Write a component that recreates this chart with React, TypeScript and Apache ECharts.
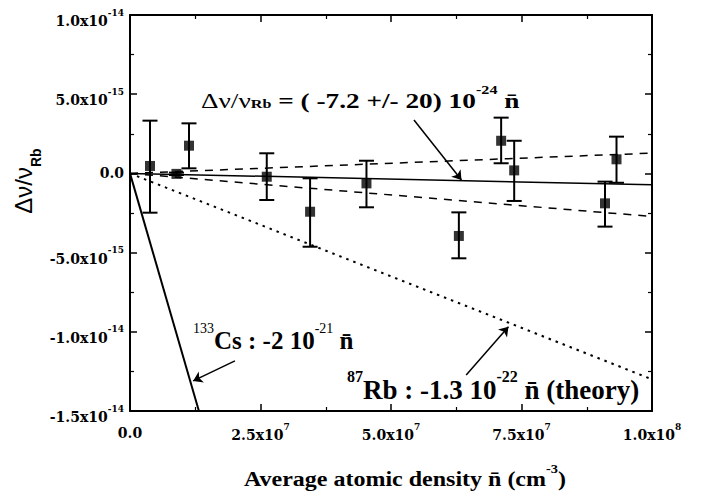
import React, { useEffect, useRef } from "react";
import * as echarts from "echarts";

const SERIF = "Liberation Serif";
const TICKFONT = "DejaVu Serif";
const SANS = "Liberation Sans";

// density in units of 1e7 cm^-3, relative shift in units of 1e-15
const density = [0.383, 0.89, 1.13, 2.62, 3.45, 4.53, 6.3, 7.11, 7.36, 9.1, 9.32];
const shift = [0.47, -0.03, 1.75, -0.21, -2.42, -0.63, -3.95, 2.06, 0.19, -1.89, 0.89];
const errTop = [3.33, 0.05, 3.16, 1.27, -0.31, 0.8, -2.46, 3.52, 2.06, -0.52, 2.32];
const errBottom = [-2.48, -0.1, 0.32, -1.68, -4.63, -2.14, -5.36, 0.64, -1.74, -3.36, -0.59];

const fitLine = [[0, 0], [10, -0.72]];
const fitUpper = [[0, 0], [10, 1.28]];
const fitLower = [[0, 0], [10, -2.72]];
const rbTheory = [[0, 0], [10, -13]];
const csLine = [[0, 0], [1.32, -15]];

const arrowFit = [[5.44, 3.37], [6.35, -0.42]];
const arrowCs = [[2.01, -11.84], [1.21, -13.1]];
const arrowRb = [[6.44, -12.72], [7.25, -9.68]];

const xTickMant = ["0.0", "2.5x10", "5.0x10", "7.5x10", "1.0x10"];
const xTickExp = ["", "7", "7", "7", "8"];
const yTickMant = ["-1.5x10", "-1.0x10", "-5.0x10", "0.0", "5.0x10", "1.0x10"];
const yTickExp = ["-14", "-14", "-15", "", "-15", "-14"];

const tok = (family: string, size: number, pad: number, bold = true) => ({
  fontFamily: family,
  fontWeight: bold ? "bold" : "normal",
  fontSize: size,
  verticalAlign: "top",
  padding: [pad, 0, 0, 0],
  color: "#000",
  fill: "#000",
});

export default function App() {
  const ref = useRef<HTMLDivElement>(null);
  useEffect(() => {
    if (!ref.current) return;
    const chart = echarts.init(ref.current, null, { renderer: "svg" });
    const black = "#000";
    const axisCommon = {
      type: "value",
      axisLine: { onZero: false, lineStyle: { color: black, width: 2 } },
      axisTick: { inside: true, length: 7, lineStyle: { color: black, width: 1.5 } },
      minorTick: { show: true, splitNumber: 2, length: 4, lineStyle: { color: black, width: 1.2 } },
      splitLine: { show: false },
      minorSplitLine: { show: false },
    };
    const xLabel = {
      margin: 11,
      verticalAlign: "top",
      formatter: (v: number) => {
        const i = Math.round(v / 2.5);
        return xTickExp[i] ? `{m|${xTickMant[i]}}{s|${xTickExp[i]}}` : `{z|${xTickMant[i]}}`;
      },
      rich: {
        m: tok(TICKFONT, 14, 6),
        s: tok(TICKFONT, 9, 0),
        z: tok(TICKFONT, 14, 4),
      },
    };
    const yLabel = {
      margin: 6,
      verticalAlign: "middle",
      formatter: (v: number) => {
        const i = Math.round((v + 15) / 5);
        return yTickExp[i] ? `{m|${yTickMant[i]}}{s|${yTickExp[i]}}` : `{z|${yTickMant[i]}}`;
      },
      rich: {
        m: tok(TICKFONT, 14, 12),
        s: tok(TICKFONT, 9, 6),
        z: tok(TICKFONT, 14, 0),
      },
    };
    const errData = density.map((x, i) => [x, errBottom[i], errTop[i]]);
    const pts = density.map((x, i) => [x, shift[i]]);
    const lineSeries = (data: number[][], type: any, width: number) => ({
      type: "line",
      data,
      symbol: "none",
      lineStyle: { color: black, width, type },
      z: 2,
    });
    chart.setOption({
      animation: false,
      grid: { left: 130, right: 52, top: 15, bottom: 88 },
      xAxis: [
        { ...axisCommon, position: "bottom", min: 0, max: 10, interval: 2.5, axisLabel: xLabel },
        { ...axisCommon, position: "top", min: 0, max: 10, interval: 2.5, axisLabel: { show: false } },
      ],
      yAxis: [
        { ...axisCommon, position: "left", min: -15, max: 10, interval: 5, axisLabel: yLabel },
        { ...axisCommon, position: "right", min: -15, max: 10, interval: 5, axisLabel: { show: false } },
      ],
      series: [
        lineSeries(fitLine, "solid", 1.5),
        lineSeries(fitUpper, [8, 7], 1.5),
        lineSeries(fitLower, [8, 7], 1.5),
        lineSeries(rbTheory, [2.5, 5], 2),
        lineSeries(csLine, "solid", 2),
        {
          type: "lines",
          coordinateSystem: "cartesian2d",
          symbol: ["none", "arrow"],
          symbolSize: 9,
          lineStyle: { color: black, width: 1.5, opacity: 1 },
          data: [{ coords: arrowFit }, { coords: arrowCs }, { coords: arrowRb }],
          z: 3,
        },
        {
          type: "custom",
          data: errData,
          encode: { x: 0, y: [1, 2] },
          z: 4,
          renderItem: (params: any, api: any) => {
            const x = api.value(0);
            const lo = api.coord([x, api.value(1)]);
            const hi = api.coord([x, api.value(2)]);
            const w = 7.5;
            const st = { stroke: black, lineWidth: 2 };
            return {
              type: "group",
              children: [
                { type: "line", shape: { x1: lo[0], y1: lo[1], x2: hi[0], y2: hi[1] }, style: st },
                { type: "line", shape: { x1: lo[0] - w, y1: lo[1], x2: lo[0] + w, y2: lo[1] }, style: st },
                { type: "line", shape: { x1: hi[0] - w, y1: hi[1], x2: hi[0] + w, y2: hi[1] }, style: st },
              ],
            };
          },
        },
        {
          type: "scatter",
          data: pts,
          symbol: "rect",
          symbolSize: 10,
          itemStyle: { color: black },
          z: 5,
        },
      ],
      graphic: [
        {
          type: "text",
          x: 201,
          y: 80,
          scaleX: 1.24,
          style: {
            text: "{g|Δν/ν}{sub|Rb}{m| = ( -7.2 +/- 20) 10}{sup|-24}{m| n̄}",
            align: "left",
            verticalAlign: "top",
            rich: {
              g: tok(SERIF, 22, 9, false),
              m: tok(SERIF, 22, 9),
              sub: tok(SERIF, 13, 17),
              sup: tok(SERIF, 13, 3),
            },
          },
        },
        {
          type: "text",
          x: 193,
          y: 310,
          style: {
            text: "{sup|133}{m|Cs : -2 10}{sup|-21}{m| n̄}",
            align: "left",
            verticalAlign: "top",
            rich: {
              m: tok(SERIF, 25, 18),
              sup: tok(SERIF, 14, 11, false),
            },
          },
        },
        {
          type: "text",
          x: 347,
          y: 360,
          style: {
            text: "{sup|87}{m|Rb : -1.3 10}{sup|-22}{m| n̄ (theory)}",
            align: "left",
            verticalAlign: "top",
            rich: {
              m: tok(SERIF, 27, 16),
              sup: tok(SERIF, 16, 8),
            },
          },
        },
        {
          type: "text",
          x: 405,
          y: 460,
          scaleX: 1.2,
          style: {
            text: "{m|Average atomic density n̄ (cm}{sup|-3}{m|)}",
            align: "center",
            verticalAlign: "top",
            rich: {
              m: tok(SERIF, 20, 9),
              sup: tok(SERIF, 12, 3),
            },
          },
        },
        {
          type: "text",
          x: 27,
          y: 181,
          rotation: Math.PI / 2,
          style: {
            text: "{m|Δν/ν}{sub|Rb}",
            align: "center",
            verticalAlign: "middle",
            rich: {
              m: tok(SANS, 24, 0, false),
              sub: tok(SANS, 14, 17),
            },
          },
        },
      ],
    });
    return () => chart.dispose();
  }, []);
  return (
    <div
      ref={ref}
      style={{ position: "fixed", left: 0, top: 0, width: 704, height: 499, background: "#fff" }}
    />
  );
}
